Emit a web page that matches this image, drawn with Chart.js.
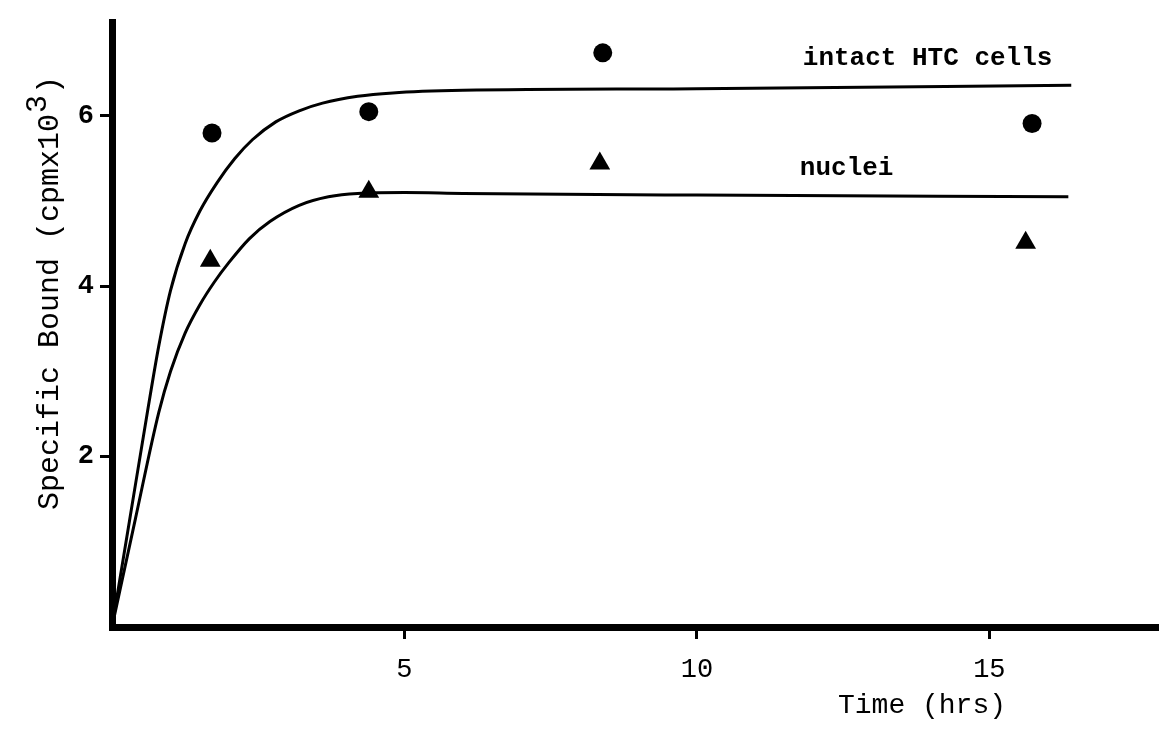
<!DOCTYPE html>
<html>
<head>
<meta charset="utf-8">
<script src="https://cdn.jsdelivr.net/npm/chart.js@4.4.0/dist/chart.umd.min.js"></script>
<style>
  html, body { margin: 0; padding: 0; background: #fff; }
  #wrap { width: 1159px; height: 744px; }
</style>
</head>
<body>
<div id="wrap"><canvas id="bindingChart"></canvas></div>
<script>
// Specific binding vs time: intact HTC cells and nuclei

// measured points (hrs, cpm x 10^3)
const cellTimes = [1.71, 4.39, 8.39, 15.73];
const cellBound = [5.80, 6.05, 6.74, 5.91];
const nucleiTimes = [1.68, 4.39, 8.34, 15.62];
const nucleiBound = [4.30, 5.11, 5.44, 4.51];

// fitted curves
const cellCurveT = [0, 0.3, 0.6, 0.8, 1.0, 1.25, 1.5, 1.8, 2.1, 2.4, 2.8, 3.2, 3.6, 4.2, 4.8, 6, 10, 16.4];
const cellCurveY = [0, 1.25, 2.50, 3.30, 3.95, 4.50, 4.88, 5.22, 5.50, 5.72, 5.93, 6.06, 6.15, 6.23, 6.27, 6.30, 6.32, 6.36];
const nucleiCurveT = [0, 0.4, 0.8, 1.0, 1.25, 1.5, 1.75, 2.0, 2.35, 2.7, 3.2, 3.7, 4.2, 5, 6, 10, 16.35];
const nucleiCurveY = [0, 1.27, 2.52, 3.00, 3.45, 3.78, 4.05, 4.28, 4.56, 4.76, 4.95, 5.05, 5.09, 5.10, 5.09, 5.07, 5.05];

const xTicks = [5, 10, 15];
const yTicks = [2, 4, 6];

const curveLabels = ['intact HTC cells', 'nuclei'];
const curveLabelT = [11.81, 11.76];
const curveLabelY = [6.67, 5.38];

const FONT = '"Liberation Mono", "DejaVu Sans Mono", monospace';

function toXY(xs, ys) {
    return xs.map((x, i) => ({ x: x, y: ys[i] }));
}

const textPlugin = {
    id: 'figureText',
    afterDraw(chart) {
        const ctx = chart.ctx;
        const sx = chart.scales.x;
        const sy = chart.scales.y;
        ctx.save();
        ctx.fillStyle = '#000';

        // curve labels
        ctx.font = 'bold 26px ' + FONT;
        ctx.textAlign = 'left';
        ctx.textBaseline = 'middle';
        curveLabels.forEach((txt, i) => {
            ctx.fillText(txt, sx.getPixelForValue(curveLabelT[i]), sy.getPixelForValue(curveLabelY[i]));
        });

        // x axis title
        ctx.font = '28px ' + FONT;
        ctx.textAlign = 'center';
        ctx.fillText('Time (hrs)', 922, 706);

        // y axis title (rotated), with raised exponent
        ctx.translate(50, 510);
        ctx.rotate(-Math.PI / 2);
        ctx.textAlign = 'left';
        ctx.textBaseline = 'middle';
        ctx.font = '30px ' + FONT;
        const main = 'Specific Bound (cpmx10';
        ctx.fillText(main, 0, 0);
        let w = ctx.measureText(main).width;
        ctx.fillText('3', w + 1, -12);
        w += ctx.measureText('3').width + 2;
        ctx.fillText(')', w, 0);
        ctx.restore();
    }
};

const ctx = document.getElementById('bindingChart');

new Chart(ctx, {
    type: 'scatter',
    data: {
        datasets: [
            {
                label: 'intact HTC cells (fit)',
                data: toXY(cellCurveT, cellCurveY),
                showLine: true,
                borderColor: '#000',
                borderWidth: 3,
                pointRadius: 0,
                cubicInterpolationMode: 'monotone',
                fill: false
            },
            {
                label: 'nuclei (fit)',
                data: toXY(nucleiCurveT, nucleiCurveY),
                showLine: true,
                borderColor: '#000',
                borderWidth: 3,
                pointRadius: 0,
                cubicInterpolationMode: 'monotone',
                fill: false
            },
            {
                label: 'intact HTC cells',
                data: toXY(cellTimes, cellBound),
                pointStyle: 'circle',
                pointRadius: 9.5,
                backgroundColor: '#000',
                borderColor: '#000',
                borderWidth: 0
            },
            {
                label: 'nuclei',
                data: toXY(nucleiTimes, nucleiBound),
                pointStyle: 'triangle',
                pointRadius: 12,
                backgroundColor: '#000',
                borderColor: '#000',
                borderWidth: 0
            }
        ]
    },
    options: {
        responsive: true,
        maintainAspectRatio: false,
        animation: false,
        layout: { autoPadding: false, padding: { top: 5, right: 0, left: 0, bottom: 0 } },
        plugins: {
            legend: { display: false },
            tooltip: { enabled: false }
        },
        scales: {
            x: {
                type: 'linear',
                min: 0,
                max: 17.9,
                afterBuildTicks: axis => { axis.ticks = xTicks.map(v => ({ value: v })); },
                afterFit: axis => { axis.height = 117; },
                border: { display: true, color: '#000', width: 7 },
                grid: { drawOnChartArea: false, drawTicks: true, tickLength: 12, tickWidth: 3, tickColor: '#000' },
                ticks: { color: '#000', padding: 15, font: { family: FONT, size: 27 }, maxRotation: 0 }
            },
            y: {
                type: 'linear',
                min: 0,
                max: 7.1,
                afterBuildTicks: axis => { axis.ticks = yTicks.map(v => ({ value: v })); },
                afterFit: axis => { axis.width = 112; },
                border: { display: true, color: '#000', width: 7 },
                grid: { drawOnChartArea: false, drawTicks: true, tickLength: 12, tickWidth: 3, tickColor: '#000' },
                ticks: { color: '#000', padding: 6, font: { family: FONT, size: 27, weight: 'bold' } }
            }
        }
    },
    plugins: [textPlugin]
});
</script>
</body>
</html>
